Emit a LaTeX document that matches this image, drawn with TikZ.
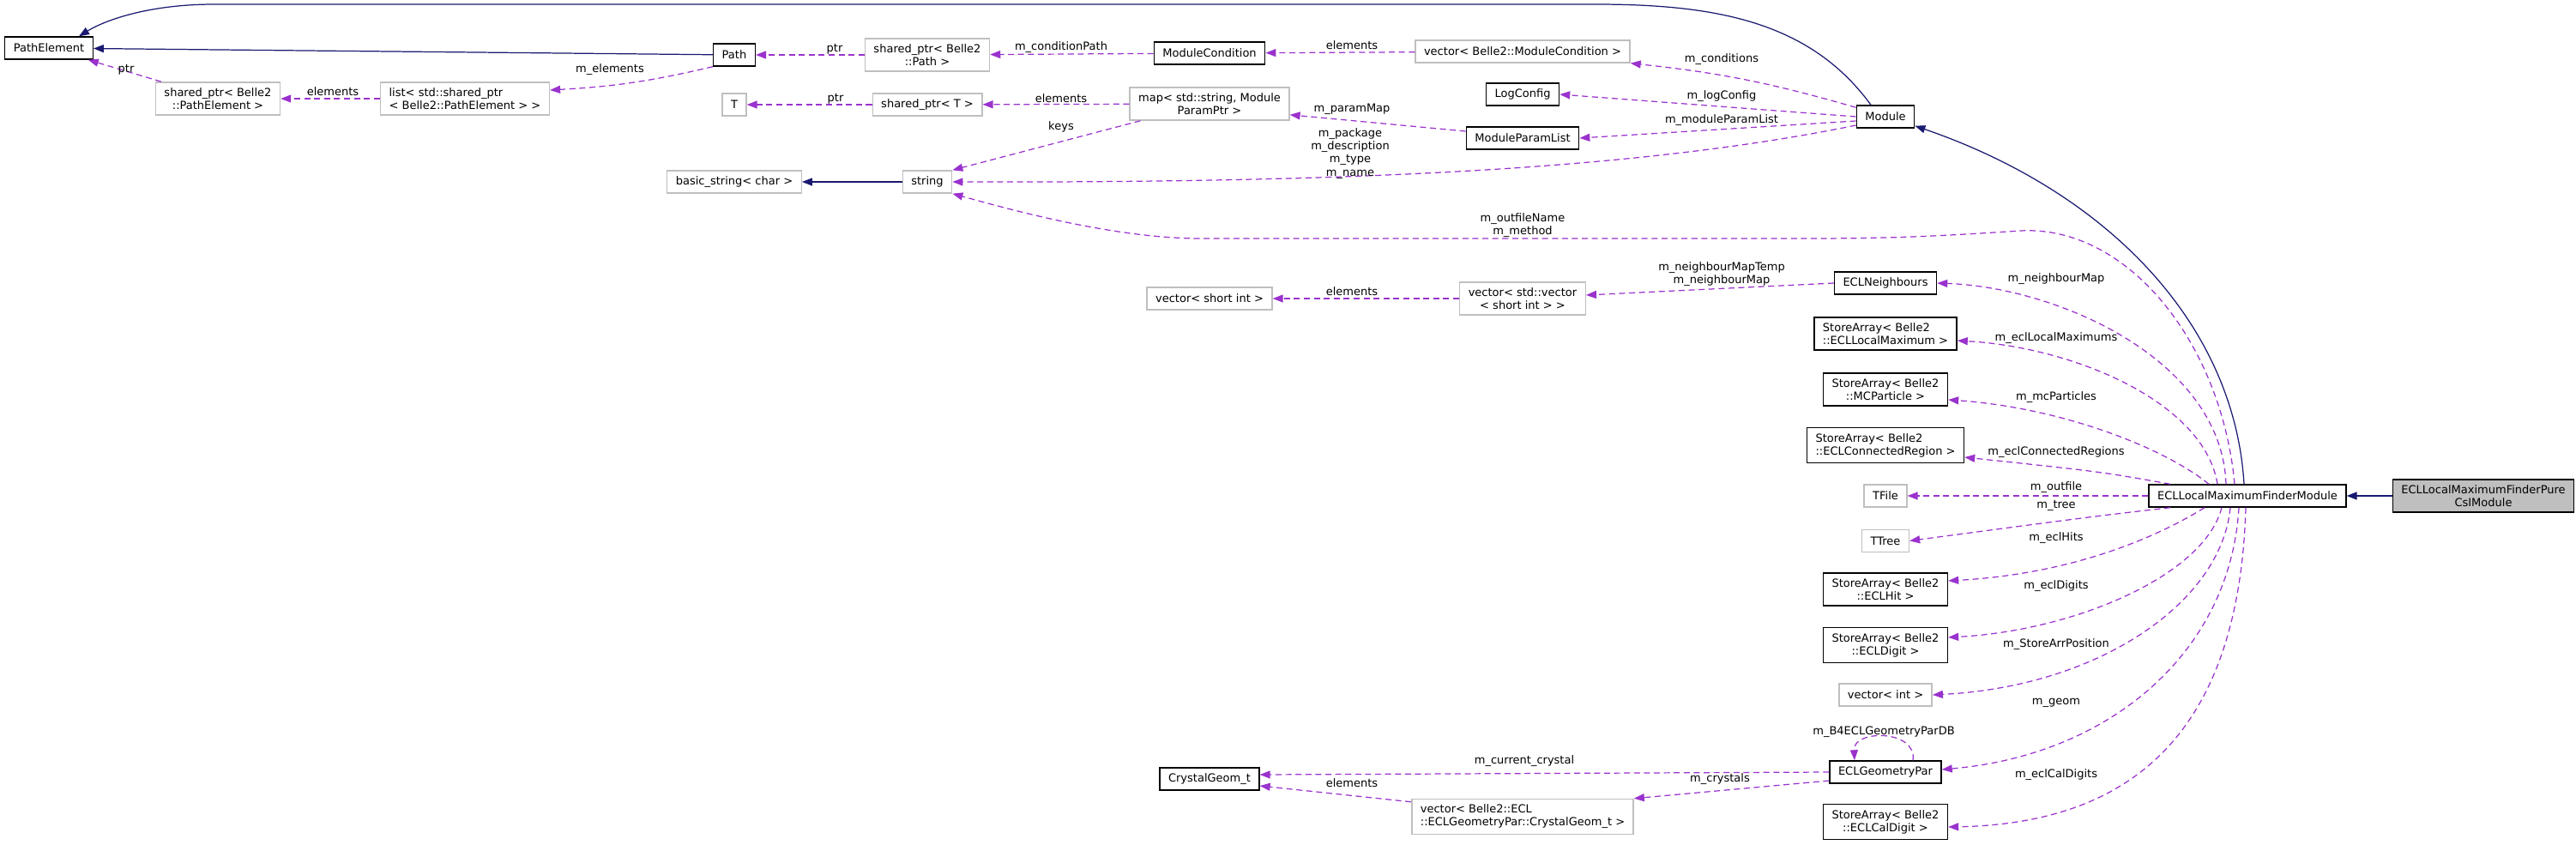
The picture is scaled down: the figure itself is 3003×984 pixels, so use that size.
\documentclass[tikz,border=0pt]{standalone}
\usepackage{fontspec}
\setmainfont{DejaVu Sans}
\usepackage{xcolor}
\usepackage{tikz}
\usetikzlibrary{arrows.meta, positioning}

\definecolor{edgeblue}{HTML}{191970}
\definecolor{edgepurple}{HTML}{9A32CD}
\definecolor{boxgrey}{HTML}{BFBFBF}

\begin{document}
\begin{tikzpicture}[
        x=0.01cm, y=0.01cm,
        font=\fontsize{3.7}{4.3}\selectfont,
        >={Triangle[length=0.12cm, width=0.09cm]},
        cls/.style={rectangle, draw=black, line width=0.4pt, inner xsep=0.1cm, inner ysep=0.065cm, minimum height=0.26cm, align=center},
        ext/.style={cls, draw=boxgrey},
        main/.style={cls, fill=boxgrey},
        inh/.style={->, draw=edgeblue, line width=0.35pt},
        use/.style={->, draw=edgepurple, dash pattern=on 2pt off 1.3pt, line width=0.35pt},
        lbl/.style={inner sep=0pt, align=center}
    ]
        \useasboundingbox (0,0) rectangle (3003,-984);

        % Framework classes
        \node[cls] (pathelem) at (57,-56) {PathElement};
        \node[cls] (path) at (856,-64) {Path};
        \node[ext] (spPath) at (1081,-64) {shared\_ptr< Belle2\\::Path >};
        \node[cls] (modcond) at (1410,-62) {ModuleCondition};
        \node[ext] (vecModCond) at (1775,-60) {vector< Belle2::ModuleCondition >};
        \node[ext] (spPathElem) at (254,-115) {shared\_ptr< Belle2\\::PathElement >};
        \node[ext, align=left] (listSp) at (542,-115) {list< std::shared\_ptr\\< Belle2::PathElement > >};
        \node[ext] (tT) at (856,-122) {T};
        \node[ext] (spT) at (1081,-122) {shared\_ptr< T >};
        \node[ext] (mapPar) at (1410,-121) {map< std::string, Module\\ParamPtr >};
        \node[cls] (logcfg) at (1775,-110) {LogConfig};
        \node[cls] (modpar) at (1775,-161) {ModuleParamList};
        \node[cls] (module) at (2198,-136) {Module};
        \node[ext] (bstring) at (856,-212) {basic\_string< char >};
        \node[ext] (str) at (1081,-212) {string};

        % ECL members
        \node[ext] (vecShort) at (1410,-348) {vector< short int >};
        \node[ext] (vecVec) at (1775,-348) {vector< std::vector\\< short int > >};
        \node[cls] (neigh) at (2198,-330) {ECLNeighbours};
        \node[cls, align=left] (saMax) at (2198,-389) {StoreArray< Belle2\\::ECLLocalMaximum >};
        \node[cls] (saMC) at (2198,-454) {StoreArray< Belle2\\::MCParticle >};
        \node[cls, align=left] (saReg) at (2198,-519) {StoreArray< Belle2\\::ECLConnectedRegion >};
        \node[ext] (tfile) at (2198,-578) {TFile};
        \node[ext, below=0.25cm of tfile] (ttree) {TTree};
        \node[cls] (saHit) at (2198,-687) {StoreArray< Belle2\\::ECLHit >};
        \node[cls] (saDigit) at (2198,-752) {StoreArray< Belle2\\::ECLDigit >};
        \node[ext] (vecInt) at (2198,-810) {vector< int >};
        \node[cls] (geompar) at (2198,-900) {ECLGeometryPar};
        \node[cls] (saCal) at (2198,-958) {StoreArray< Belle2\\::ECLCalDigit >};
        \node[cls] (crysgeom) at (1410,-908) {CrystalGeom\_t};
        \node[ext, align=left] (vecCrys) at (1775,-952) {vector< Belle2::ECL\\::ECLGeometryPar::CrystalGeom\_t >};

        % Modules
        \node[cls] (finder) at (2620,-578) {ECLLocalMaximumFinderModule};
        \node[main, right=0.53cm of finder] (pure) {ECLLocalMaximumFinderPure\\CsIModule};

        % Inheritance
        \draw[inh] (path) -- (pathelem);
        \draw[inh] ([xshift=-0.17cm]module.north) .. controls (2110,-25) and (2000,-5) .. (1860,-5) -- (250,-5) .. controls (170,-5) and (120,-25) .. ([xshift=0.35cm]pathelem.north);
        \draw[inh] ([xshift=-0.04cm]finder.north) .. controls (2605,-380) and (2460,-225) .. ([yshift=0.03cm]module.south east);
        \draw[inh] (pure) -- (finder);
        \draw[inh] (str) -- (bstring);

        % Members of the framework classes
        \draw[use] (spPathElem) -- (pathelem);
        \draw[use] (listSp) -- (spPathElem);
        \draw[use] (path.south west) to[bend left=5] ([yshift=0.1cm]listSp.east);
        \draw[use] (spPath) -- (path);
        \draw[use] (modcond) -- (spPath);
        \draw[use] (vecModCond) -- (modcond);
        \draw[use] ([yshift=-0.03cm]module.north west) to[bend right=5] (vecModCond.south east);
        \draw[use] (module.west) -- (logcfg.east);
        \draw[use] ([yshift=-0.05cm]module.west) -- (modpar.east);
        \draw[use] ([yshift=-0.1cm]module.west) .. controls (1900,-200) and (1550,-213) .. (str.east);
        \draw[use] ([yshift=0.08cm]modpar.west) -- ([yshift=0.07cm]mapPar.south east);
        \draw[use] (mapPar) -- (spT);
        \draw[use] (spT) -- (tT);
        \draw[use] ([xshift=0.13cm]mapPar.south west) -- (str.north east);

        % Members of the finder
        \draw[use] ([xshift=-0.15cm]finder.north) .. controls (2590,-400) and (2480,-262) .. (2355,-269) .. controls (2250,-276) and (2200,-278) .. (2100,-278) -- (1400,-278) .. controls (1300,-278) and (1180,-245) .. (str.south east);
        \draw[use] (vecVec) -- (vecShort);
        \draw[use] (neigh.west) -- ([yshift=0.04cm]vecVec.east);
        \draw[use] ([xshift=-0.25cm]finder.north) .. controls (2590,-420) and (2400,-335) .. (neigh.east);
        \draw[use] ([xshift=-0.35cm]finder.north) .. controls (2570,-470) and (2420,-405) .. ([yshift=-0.08cm]saMax.east);
        \draw[use] ([xshift=-0.45cm]finder.north) .. controls (2520,-520) and (2400,-475) .. ([yshift=-0.12cm]saMC.east);
        \draw[use] ([xshift=-0.9cm]finder.north) .. controls (2450,-550) .. ([yshift=-0.14cm]saReg.east);
        \draw[use] (finder) -- (tfile);
        \draw[use] ([xshift=-0.9cm]finder.south) .. controls (2440,-602) .. (ttree.east);
        \draw[use] ([xshift=-0.5cm]finder.south) .. controls (2500,-635) and (2400,-670) .. ([yshift=0.1cm]saHit.east);
        \draw[use] ([xshift=-0.3cm]finder.south) .. controls (2570,-670) and (2420,-735) .. ([yshift=0.09cm]saDigit.east);
        \draw[use] ([xshift=-0.2cm]finder.south) .. controls (2590,-700) and (2450,-800) .. (vecInt.east);
        \draw[use] ([xshift=-0.1cm]finder.south) .. controls (2600,-760) and (2460,-880) .. ([yshift=0.03cm]geompar.east);
        \draw[use] ([xshift=-0.02cm]finder.south) .. controls (2610,-860) and (2480,-960) .. ([yshift=-0.06cm]saCal.east);
        \draw[use] ([xshift=0.32cm]geompar.north) .. controls (2235,-850) and (2160,-850) .. ([xshift=-0.36cm]geompar.north);
        \draw[use] (geompar.west) -- ([yshift=0.05cm]crysgeom.east);
        \draw[use] ([yshift=-0.1cm]geompar.west) -- (vecCrys.north east);
        \draw[use] ([yshift=-0.04cm]vecCrys.north west) -- ([yshift=-0.08cm]crysgeom.east);

        % Edge labels
        \node[lbl] (lPtrA) at (147,-81) {ptr};
        \node[lbl] (lElemA) at (388,-107) {elements};
        \node[lbl] (lElems) at (711,-81) {m\_elements};
        \node[lbl] (lPtrB) at (973,-57) {ptr};
        \node[lbl] (lCondPath) at (1237,-55) {m\_conditionPath};
        \node[lbl] (lElemB) at (1576,-53) {elements};
        \node[lbl] (lConds) at (2007,-69) {m\_conditions};
        \node[lbl] (lLog) at (2007,-112) {m\_logConfig};
        \node[lbl] (lModPar) at (2007,-140) {m\_moduleParamList};
        \node[lbl] (lStrs) at (1574,-179) {m\_package\\m\_description\\m\_type\\m\_name};
        \node[lbl] (lParMap) at (1576,-127) {m\_paramMap};
        \node[lbl] (lElemC) at (1237,-115) {elements};
        \node[lbl] (lPtrC) at (974,-115) {ptr};
        \node[lbl] (lKeys) at (1237,-148) {keys};
        \node[lbl] (lOut) at (1775,-263) {m\_outfileName\\m\_method};
        \node[lbl] (lElemD) at (1576,-340) {elements};
        \node[lbl] (lNbrs) at (2007,-320) {m\_neighbourMapTemp\\m\_neighbourMap};
        \node[lbl] (lNbr) at (2397,-325) {m\_neighbourMap};
        \node[lbl] (lMax) at (2397,-394) {m\_eclLocalMaximums};
        \node[lbl] (lMC) at (2397,-463) {m\_mcParticles};
        \node[lbl] (lReg) at (2397,-527) {m\_eclConnectedRegions};
        \node[lbl] (lFile) at (2397,-568) {m\_outfile};
        \node[lbl] (lTree) at (2397,-589) {m\_tree};
        \node[lbl] (lHits) at (2397,-627) {m\_eclHits};
        \node[lbl] (lDigits) at (2397,-683) {m\_eclDigits};
        \node[lbl] (lPos) at (2397,-751) {m\_StoreArrPosition};
        \node[lbl] (lGeom) at (2397,-819) {m\_geom};
        \node[lbl] (lCal) at (2397,-903) {m\_eclCalDigits};
        \node[lbl] (lDB) at (2196,-853) {m\_B4ECLGeometryParDB};
        \node[lbl] (lCur) at (1777,-887) {m\_current\_crystal};
        \node[lbl] (lCrys) at (2005,-908) {m\_crystals};
        \node[lbl] (lElemE) at (1576,-913) {elements};
    \end{tikzpicture}
\end{document}
